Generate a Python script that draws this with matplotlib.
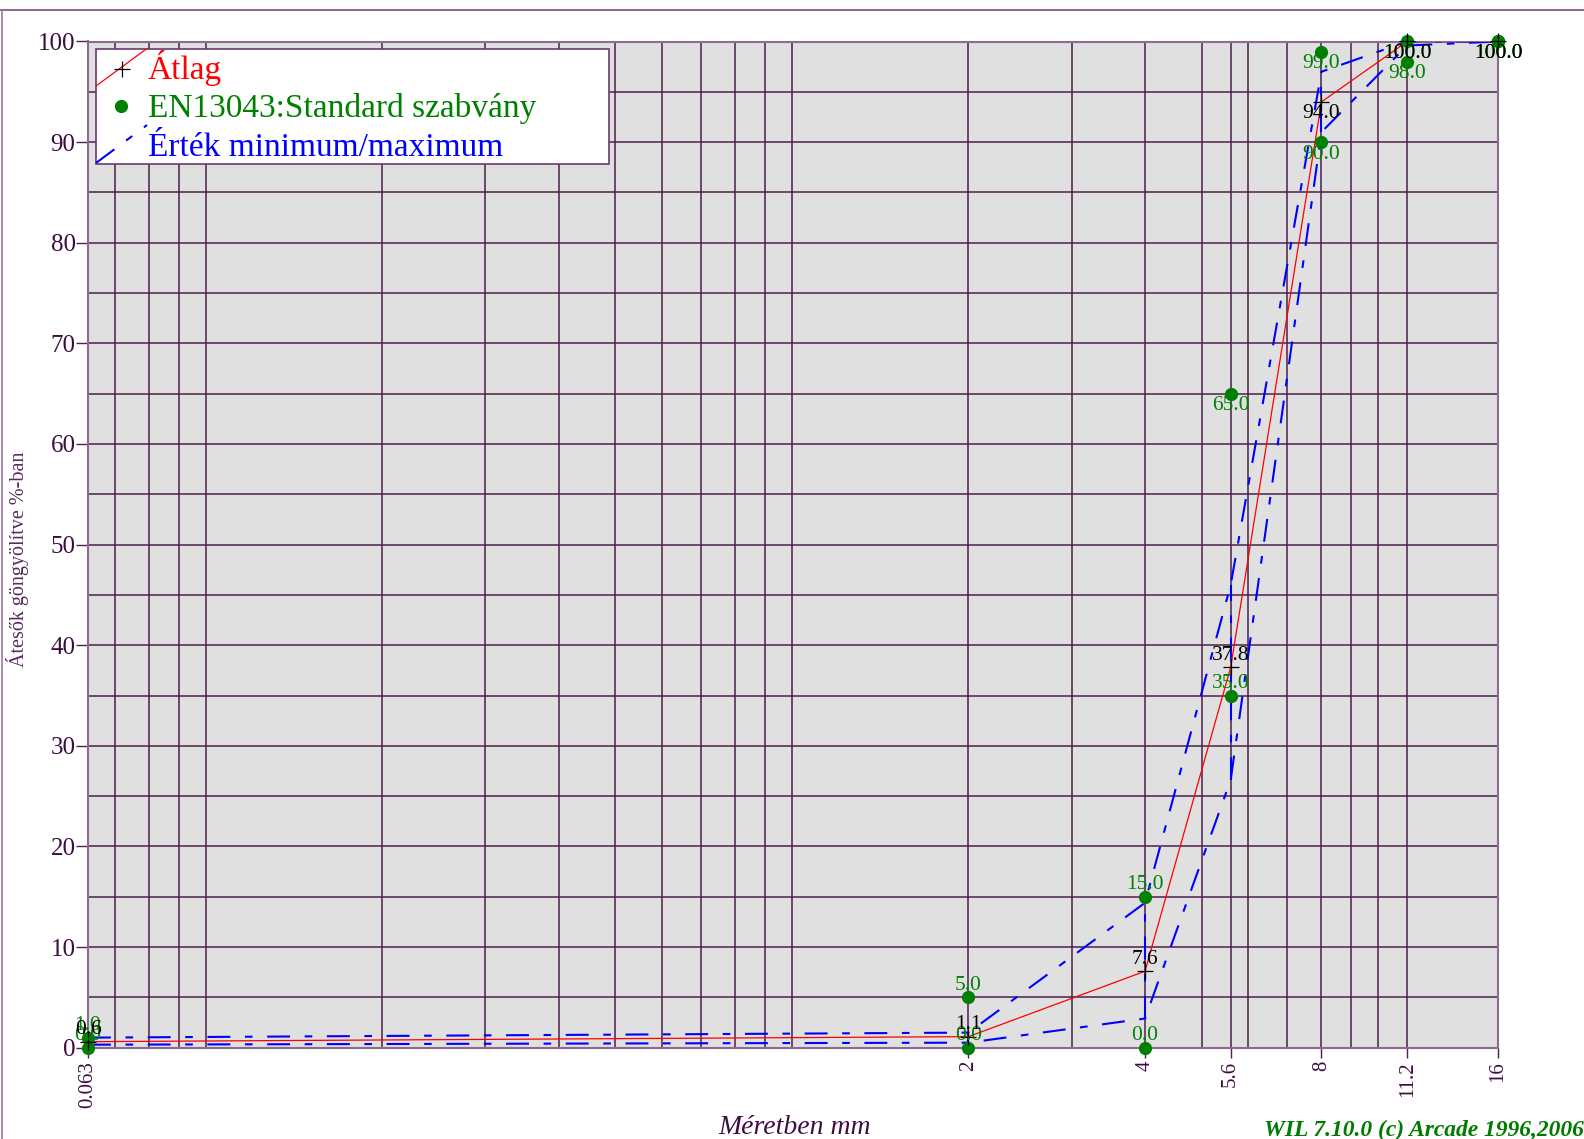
import matplotlib
matplotlib.use("Agg")
import matplotlib.pyplot as plt
from matplotlib.patches import Rectangle
from matplotlib.lines import Line2D
from matplotlib.ticker import FixedLocator, NullFormatter

plt.rcParams['font.family'] = ['Liberation Serif', 'DejaVu Serif']
plt.rcParams['lines.scale_dashes'] = False

# ---------------- data ----------------
sieves = [0.063, 2, 4, 5.6, 8, 11.2, 16]
sieve_labels = ["0.063", "2", "4", "5.6", "8", "11.2", "16"]
atlag = [0.6, 1.1, 7.6, 37.8, 94.0, 100.0, 100.0]
std_low = [0.0, 0.0, 0.0, 35.0, 90.0, 98.0, 100.0]
std_high = [1.0, 5.0, 15.0, 65.0, 99.0, 100.0, 100.0]
val_min = [0.3, 0.5, 2.9, 26.6, 91.0, 99.6, 100.0]
val_max = [1.0, 1.5, 14.4, 46.0, 97.0, 100.0, 100.0]
grid_x = [0.063, 0.07, 0.08, 0.09, 0.1, 0.2, 0.3, 0.4, 0.5, 0.6, 0.7, 0.8, 0.9, 1,
          2, 3, 4, 5, 5.6, 6, 7, 8, 9, 10, 11.2, 16]
y_major = list(range(0, 101, 10))
y_minor = list(range(5, 100, 10))

legend_labels = ["Átlag", "EN13043:Standard szabvány", "Érték minimum/maximum"]
xlabel = "Méretben mm"
ylabel = "Átesők göngyölítve %-ban"
credit = "WIL 7.10.0 (c) Arcade 1996,2006"

# ---------------- style ----------------
W, H = 1584, 1139
GRID = '#4b1f4f'
SPINE = '#8c6c8c'
TXT = '#3e0c42'
GREEN = '#008000'
BLUE = '#0000ff'
DASH = (0, (16.5, 10.5, 5.5, 10.5))
OFF = 12 * 72 / 100  # 12 px in points

fig = plt.figure(figsize=(W / 100, H / 100), dpi=100)

def P(x, y):
    return (x / W, 1 - y / H)

x0, x1, ytop, ybot = 88, 1498, 41.5, 1047.7
ax = fig.add_axes([x0 / W, 1 - ybot / H, (x1 - x0) / W, (ybot - ytop) / H])
ax.set_facecolor('#e0e0e0')
ax.set_xscale('log')
ax.set_xlim(0.063, 16)
ax.set_ylim(0, 100)

# ticks and grid
ax.xaxis.set_major_locator(FixedLocator(sieves))
ax.set_xticklabels(sieve_labels, rotation=90, fontsize=15, color=TXT)
ax.xaxis.set_minor_locator(FixedLocator(grid_x))
ax.xaxis.set_minor_formatter(NullFormatter())
ax.yaxis.set_major_locator(FixedLocator(y_major))
ax.set_yticklabels([str(v) for v in y_major], fontsize=18, color=TXT)
ax.yaxis.set_minor_locator(FixedLocator(y_minor))
ax.tick_params(which='minor', length=0)
ax.tick_params(axis='x', which='major', length=7.5, width=1.0, color=GRID, pad=2)
ax.tick_params(axis='y', which='major', length=9, width=1.0, color=GRID, pad=0)
ax.grid(True, which='both', color=GRID, linewidth=1.1, zorder=0)
ax.set_axisbelow(True)
for s in ax.spines.values():
    s.set_color(SPINE)
    s.set_linewidth(1.5)

# min / max envelopes
ax.plot(sieves, val_max, color=BLUE, lw=1.5, linestyle=DASH, zorder=3)
ax.plot(sieves, val_min, color=BLUE, lw=1.5, linestyle=DASH, zorder=3)
for xv, lo, hi in zip(sieves, val_min, val_max):
    ax.plot([xv, xv], [lo, hi], color=BLUE, lw=1.5, linestyle=DASH, zorder=3)

# mean line
ax.plot(sieves, atlag, color='red', lw=0.9, zorder=4)

# standard points
ax.plot(sieves, std_low, 'o', color=GREEN, ms=8.5, zorder=5, clip_on=False)
ax.plot(sieves, std_high, 'o', color=GREEN, ms=8.5, zorder=5, clip_on=False)
ax.plot(sieves, atlag, '+', color='black', ms=12, mew=0.9, zorder=6, clip_on=False)

def label(xv, yv, color):
    dy = OFF if yv < 50 else -OFF
    ax.annotate(f"{yv:.1f}", (xv, yv), xytext=(0, dy), textcoords='offset points',
                ha='center', va='center', fontsize=15.5, color=color,
                annotation_clip=False, zorder=7)

for xv, yv in zip(sieves, std_low):
    label(xv, yv, GREEN)
for xv, yv in zip(sieves, std_high):
    label(xv, yv, GREEN)
for xv, yv in zip(sieves, atlag):
    label(xv, yv, 'black')

# axis labels and credit
fig.text(*P(795, 1128), xlabel, ha='center', va='center', fontsize=20,
         style='italic', color=TXT)
fig.text(*P(18, 559), ylabel, ha='center', va='center', fontsize=14.5,
         rotation=90, color='#5a2a5e')
fig.text(*P(1264, 1130), credit, ha='left', va='center', fontsize=16.9,
         style='italic', weight='bold', color='#007a00')

# figure border lines
fig.add_artist(Line2D([0, 1], [P(0, 10)[1]] * 2, transform=fig.transFigure,
                      color='#7a4a7e', lw=1.2))
fig.add_artist(Line2D([P(1.5, 0)[0]] * 2, [P(0, 10)[1], 0], transform=fig.transFigure,
                      color='#9a7a9e', lw=1.2))

# legend (manual)
lx0, ly0, lx1, ly1 = 96, 48.5, 609, 163.6
bx, by = P(lx0, ly1)
fig.add_artist(Rectangle((bx, by), (lx1 - lx0) / W, (ly1 - ly0) / H,
                         transform=fig.transFigure, facecolor='white',
                         edgecolor='#6a3a6e', lw=1.2, zorder=10))
fig.add_artist(Line2D([P(96, 86)[0], P(147, 48.5)[0]], [P(96, 86)[1], P(147, 48.5)[1]],
                      transform=fig.transFigure, color='red', lw=0.9, zorder=11))
fig.add_artist(Line2D([P(122, 68.5)[0]], [P(122, 68.5)[1]], transform=fig.transFigure,
                      marker='+', color='black', ms=12, mew=0.9, zorder=12))
fig.add_artist(Line2D([P(121, 106)[0]], [P(121, 106)[1]], transform=fig.transFigure,
                      marker='o', color=GREEN, ms=8.5, zorder=12))
fig.add_artist(Line2D([P(96, 163)[0], P(147, 125)[0]], [P(96, 163)[1], P(147, 125)[1]],
                      transform=fig.transFigure, color=BLUE, lw=1.5,
                      linestyle=(0, (16.5, 10.5, 5.5, 10.5)), zorder=11))
legend_colors = ['red', GREEN, BLUE]
legend_y = [68.5, 108.5, 147.5]
for t, c, yy in zip(legend_labels, legend_colors, legend_y):
    fig.text(*P(148, yy), t, ha='left', va='center', fontsize=24, color=c, zorder=13)

fig.savefig('out.png', dpi=100)
